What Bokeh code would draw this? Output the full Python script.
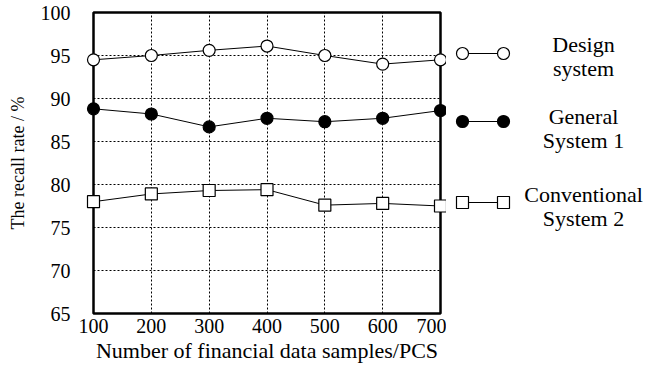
from bokeh.plotting import figure
from bokeh.layouts import row
from bokeh.models import Range1d, FixedTicker
from bokeh.core.properties import value
from bokeh.embed import file_html
from bokeh.resources import INLINE

samples = [100, 200, 300, 400, 500, 600, 700]
design_system = [94.5, 95.0, 95.6, 96.1, 95.0, 94.0, 94.5]
general_system_1 = [88.8, 88.2, 86.7, 87.7, 87.3, 87.7, 88.6]
conventional_system_2 = [78.0, 78.9, 79.3, 79.4, 77.6, 77.8, 77.5]
y_ticks = [65, 70, 75, 80, 85, 90, 95, 100]
series_names = ["Design\nsystem", "General\nSystem 1", "Conventional\nSystem 2"]

FONT = "Liberation Serif"

p = figure(width=446, height=370, output_backend="svg", toolbar_location=None,
           x_range=Range1d(100, 700), y_range=Range1d(65, 100),
           min_border_left=93, min_border_right=6, min_border_top=12, min_border_bottom=57)
p.outline_line_color = "black"
p.outline_line_width = 2.5
p.background_fill_color = "white"
p.border_fill_color = "white"

p.xaxis.ticker = FixedTicker(ticks=samples)
p.yaxis.ticker = FixedTicker(ticks=y_ticks)
for ax in (p.xaxis[0], p.yaxis[0]):
    ax.axis_line_color = None
    ax.major_tick_line_color = None
    ax.minor_tick_line_color = None
    ax.major_tick_out = 0
    ax.major_label_text_font = FONT
    ax.major_label_text_color = "black"
    ax.axis_label_text_font = FONT
    ax.axis_label_text_font_style = "normal"
    ax.axis_label_text_color = "black"
p.xaxis.major_label_text_font_size = "20px"
p.yaxis.major_label_text_font_size = "20px"
p.xaxis.major_label_standoff = 5
p.yaxis.major_label_standoff = 23
p.xaxis.axis_label = "Number of financial data samples/PCS"
p.yaxis.axis_label = "The recall rate / %"
p.xaxis.axis_label_text_font_size = "22px"
p.yaxis.axis_label_text_font_size = "18px"
p.xaxis.axis_label_standoff = 2
p.yaxis.axis_label_standoff = 10

for g in (p.xgrid[0], p.ygrid[0]):
    g.grid_line_color = "black"
    g.grid_line_dash = "2 2"
    g.grid_line_width = 1
    g.grid_line_alpha = 1.0

p.line(samples, design_system, line_color="black", line_width=1)
r1 = p.scatter(samples, design_system, marker="circle", size=12, fill_color="white",
               line_color="black", line_width=1.2)
p.line(samples, general_system_1, line_color="black", line_width=1)
r2 = p.scatter(samples, general_system_1, marker="circle", size=12, fill_color="black",
               line_color="black", line_width=1.2)
p.line(samples, conventional_system_2, line_color="black", line_width=1)
r3 = p.scatter(samples, conventional_system_2, marker="square", size=12, fill_color="white",
               line_color="black", line_width=1.2)
for r in (r1, r2, r3):
    r.level = "overlay"

# legend panel; its frame is aligned with the main frame (page y 12..313)
lg = figure(width=200, height=370, output_backend="svg", toolbar_location=None,
            x_range=Range1d(0, 200), y_range=Range1d(313, 12),
            min_border=0, x_axis_type=None, y_axis_type=None)
lg.outline_line_color = None
lg.xgrid.visible = False
lg.ygrid.visible = False
leg_y = [53, 121, 202]
leg_text_y = [56, 128, 206]
markers = [("circle", "white"), ("circle", "black"), ("square", "white")]
for (mk, fc), yy, ty, name in zip(markers, leg_y, leg_text_y, series_names):
    lg.line([16, 57], [yy, yy], line_color="black", line_width=1)
    lg.scatter([16, 57], [yy, yy], marker=mk, size=12, fill_color=fc,
               line_color="black", line_width=1.2)
    lg.text([137], [ty], text=[name], text_font=value(FONT), text_font_size="22px",
            text_align="center", text_baseline="middle", text_color="black",
            text_line_height=0.95)

layout = row(p, lg, spacing=0)
open("out.html", "w").write(file_html(layout, INLINE))
